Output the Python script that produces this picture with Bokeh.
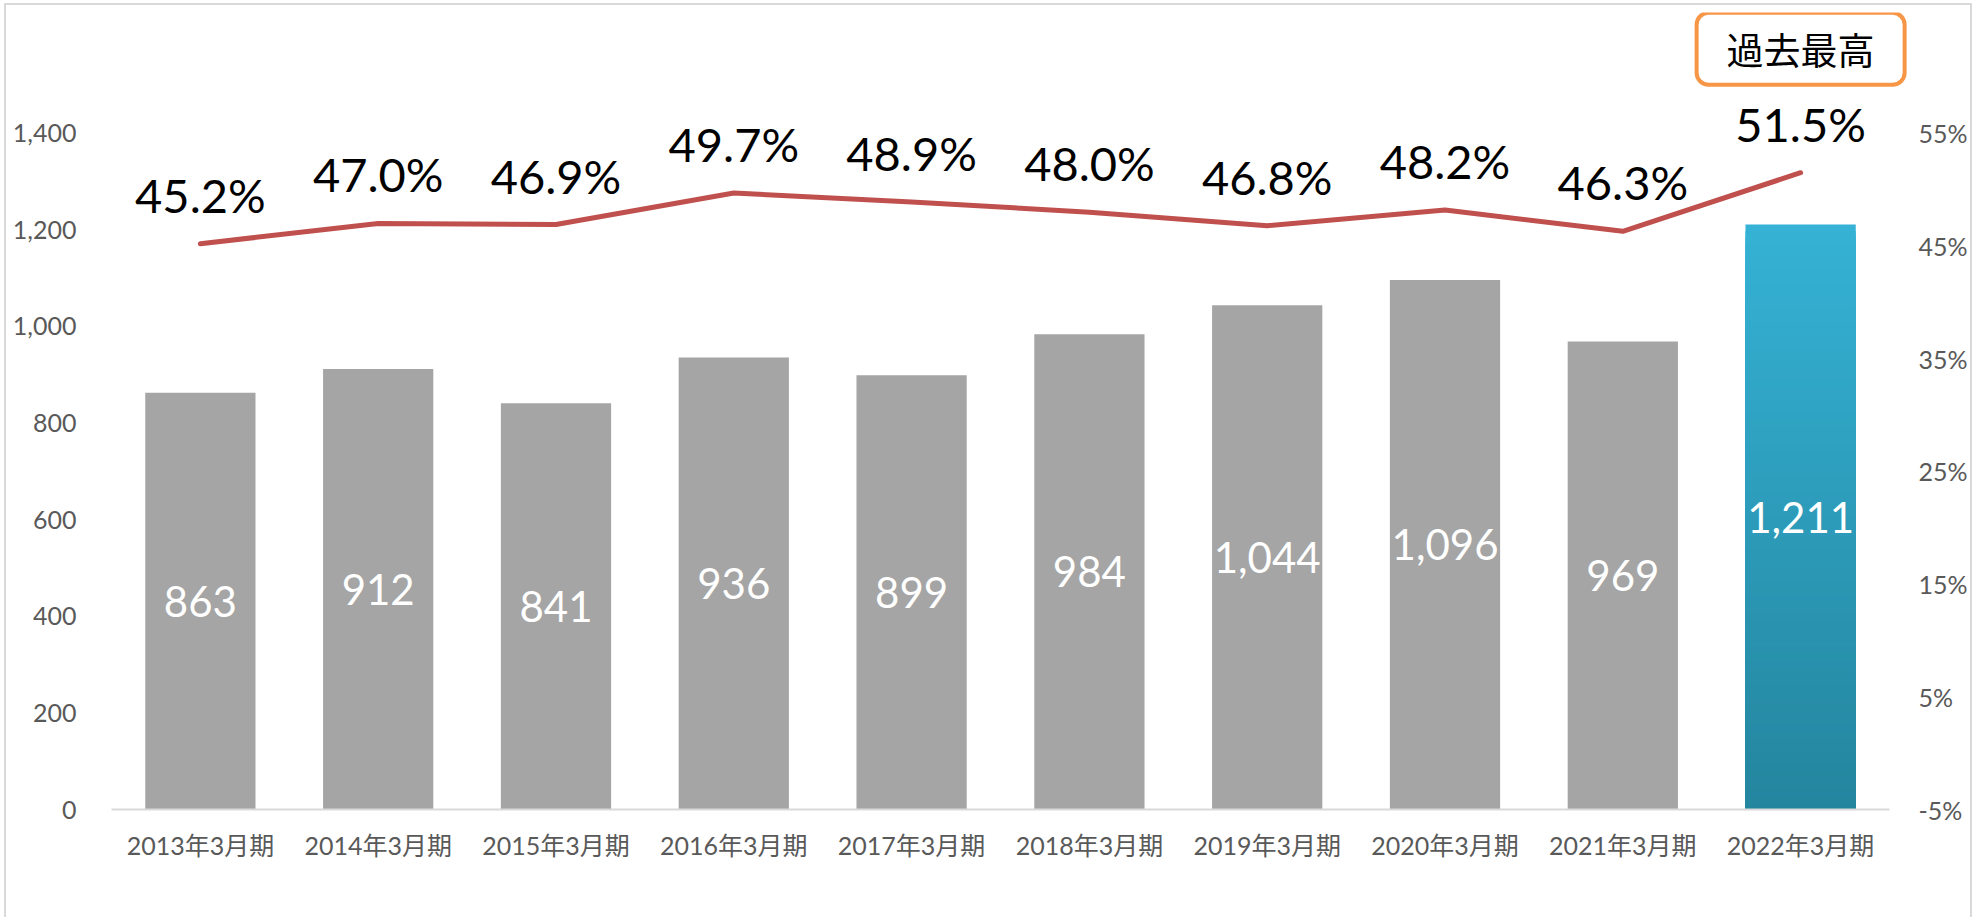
from bokeh.plotting import figure
from bokeh.models import (ColumnDataSource, Range1d, FactorRange, LinearAxis, FixedTicker,
                          NumeralTickFormatter, PrintfTickFormatter, LabelSet, Label)
from bokeh.core.properties import value
from bokeh.embed import file_html
from bokeh.resources import INLINE

# ---------------- data ----------------
categories = ["2013年3月期", "2014年3月期", "2015年3月期", "2016年3月期", "2017年3月期",
              "2018年3月期", "2019年3月期", "2020年3月期", "2021年3月期", "2022年3月期"]
sales = [863, 912, 841, 936, 899, 984, 1044, 1096, 969, 1211]
ratio = [45.2, 47.0, 46.9, 49.7, 48.9, 48.0, 46.8, 48.2, 46.3, 51.5]
left_ticks = [0, 200, 400, 600, 800, 1000, 1200, 1400]
right_ticks = [-5, 5, 15, 25, 35, 45, 55]
highlight_text = "過去最高"

# ---------------- scales ----------------
LEFT_ALIGN = 1400          # left value aligned with right axis max
RIGHT_MIN, RIGHT_MAX = -5, 55
Y_TOP = 1650               # headroom above the last tick for labels
RECORD_Y = 1575            # vertical position of the "record" badge (left-axis units)
X_PAD = 0.0236             # small side padding so the badge is not clipped

FONT = "Lato, 'Noto Sans CJK JP', sans-serif"
CJK = "'Noto Sans CJK JP', sans-serif"
GRAY_BAR = "#A5A5A5"
LINE_RED = "#C0504D"
TICK_GRAY = "#595959"
TOP_RGB = (53, 178, 213)
BOTTOM_RGB = (36, 133, 158)

p = figure(x_range=FactorRange(factors=categories, range_padding=X_PAD),
           y_range=Range1d(0, Y_TOP),
           width=1968, height=914, output_backend="svg", toolbar_location=None,
           min_border_left=84, min_border_right=64, min_border_top=7, min_border_bottom=110,
           background_fill_color="white", border_fill_color="white",
           styles={"margin-left": "4px", "margin-top": "3px",
                   "border-top": "2px solid #D9D9D9",
                   "border-left": "2px solid #D9D9D9",
                   "border-right": "2px solid #D9D9D9"})
p.outline_line_color = None
p.xgrid.visible = False
p.ygrid.visible = False

p.extra_y_ranges = {"pct": Range1d(RIGHT_MIN, RIGHT_MIN + (RIGHT_MAX - RIGHT_MIN) * Y_TOP / LEFT_ALIGN)}

# gray bars
gray_src = ColumnDataSource(dict(cat=categories[:-1], val=sales[:-1]))
p.vbar(x="cat", top="val", width=0.62, source=gray_src, fill_color=GRAY_BAR, line_color=None)

# highlighted bar with vertical gradient (stacked from tallest to shortest)
N = 90
last = sales[-1]
g_cat, g_top, g_col = [], [], []
for k in range(N - 1, -1, -1):
    t = (k + 0.5) / N
    rgb = tuple(int(round(BOTTOM_RGB[i] + (TOP_RGB[i] - BOTTOM_RGB[i]) * t)) for i in range(3))
    g_cat.append(categories[-1])
    g_top.append(last * (k + 1) / N)
    g_col.append("#%02x%02x%02x" % rgb)
grad_src = ColumnDataSource(dict(cat=g_cat, top=g_top, color=g_col))
p.vbar(x="cat", top="top", bottom=0, width=0.62, source=grad_src, fill_color="color", line_color=None)

# bar value labels
bar_lbl = ColumnDataSource(dict(cat=categories, mid=[v / 2 for v in sales],
                                txt=[f"{v:,}" for v in sales]))
p.add_layout(LabelSet(x="cat", y="mid", text="txt", source=bar_lbl, text_align="center",
                      text_baseline="middle", text_color="white",
                      text_font=value(FONT), text_font_size="42px"))

# ratio line
line_src = ColumnDataSource(dict(cat=categories, r=ratio, txt=[f"{r:.1f}%" for r in ratio]))
p.line(x="cat", y="r", source=line_src, y_range_name="pct", line_color=LINE_RED,
       line_width=5, line_join="round", line_cap="round")
p.add_layout(LabelSet(x="cat", y="r", text="txt", source=line_src, y_range_name="pct",
                      text_align="center", text_baseline="alphabetic", y_offset=31,
                      text_color="black", text_font=value(FONT), text_font_size="47px"))

# record badge (centre of the last category in synthetic categorical coordinates)
p.add_layout(Label(x=len(categories) - 0.5, y=RECORD_Y, text=highlight_text,
                   text_align="center", text_baseline="middle", text_color="black",
                   text_font=CJK, text_font_size="37px", background_fill_color="white",
                   border_line_color="#F79646", border_line_width=4,
                   padding=dict(left=30, right=30, top=9, bottom=9), border_radius=12))

# axes
yl = p.yaxis[0]
yl.ticker = FixedTicker(ticks=left_ticks)
yl.formatter = NumeralTickFormatter(format="0,0")
yr = LinearAxis(y_range_name="pct", ticker=FixedTicker(ticks=right_ticks),
                formatter=PrintfTickFormatter(format="%d%%"))
p.add_layout(yr, "right")
for ax, standoff in ((yl, 14), (yr, 8)):
    ax.axis_line_color = None
    ax.major_tick_line_color = None
    ax.minor_tick_line_color = None
    ax.major_tick_out = 0
    ax.major_tick_in = 0
    ax.minor_tick_out = 0
    ax.major_label_standoff = standoff
    ax.major_label_text_color = TICK_GRAY
    ax.major_label_text_font = FONT
    ax.major_label_text_font_size = "25px"

xa = p.xaxis[0]
xa.bounds = (0, len(categories))
xa.axis_line_color = "#D9D9D9"
xa.axis_line_width = 2
xa.major_tick_line_color = None
xa.major_tick_out = 0
xa.major_tick_in = 0
xa.major_label_standoff = 20
xa.major_label_text_color = TICK_GRAY
xa.major_label_text_font = FONT
xa.major_label_text_font_size = "25px"

open("out.html", "w").write(file_html(p, INLINE))
